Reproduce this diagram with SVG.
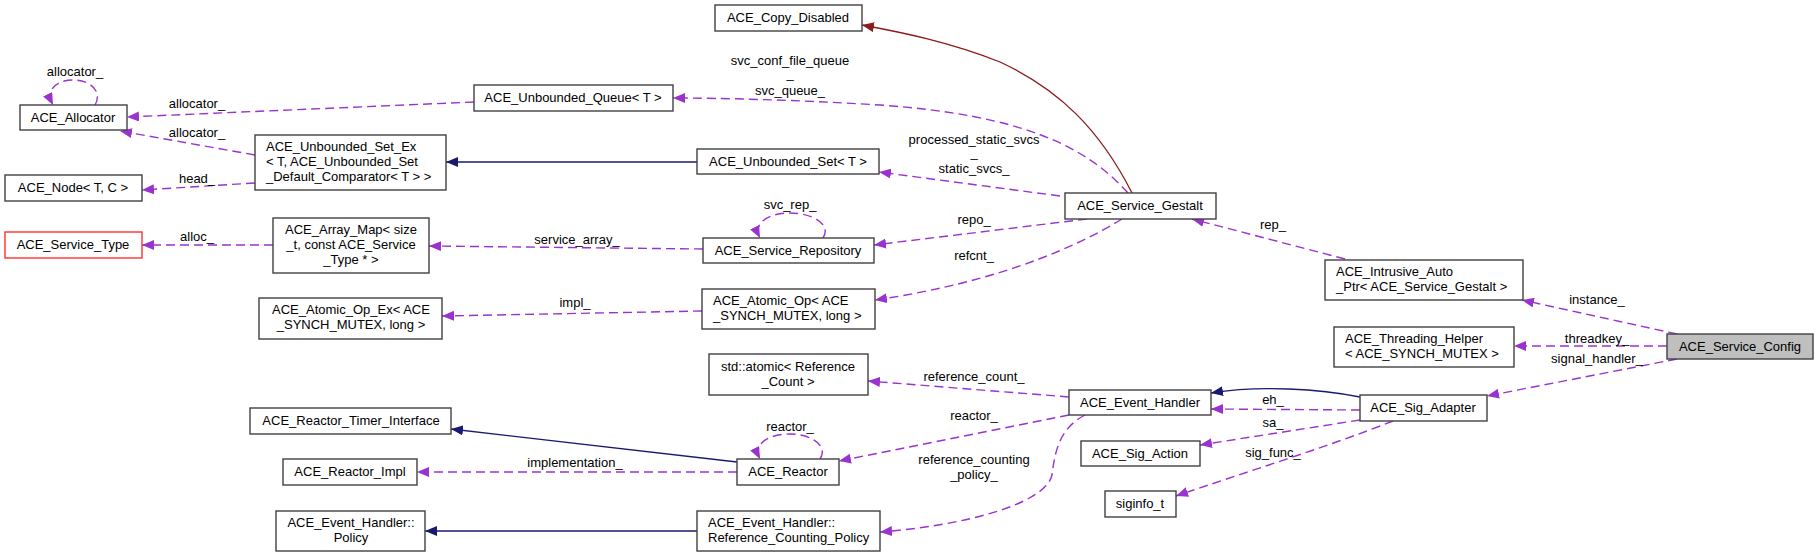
<svg xmlns="http://www.w3.org/2000/svg" width="1819" height="557" viewBox="0 0 1819 557">
<style>
text{font-family:"Liberation Sans",Arial,sans-serif;font-size:13px;fill:#000}
.c{text-anchor:middle}
.n rect{fill:#fff;stroke:#404040;stroke-width:1.4}
.d{fill:none;stroke:#9a32cd;stroke-width:1.4;stroke-dasharray:9,5}
.b{fill:none;stroke:#191970;stroke-width:1.3}
.r{fill:none;stroke:#8b1a1a;stroke-width:1.3}
</style>
<defs>
<marker id="ap" markerWidth="14" markerHeight="10" refX="12" refY="5" orient="auto" markerUnits="userSpaceOnUse"><path d="M0,0 L12,5 L0,10 z" fill="#9a32cd"/></marker>
<marker id="ab" markerWidth="14" markerHeight="10" refX="12" refY="5" orient="auto" markerUnits="userSpaceOnUse"><path d="M0,0 L12,5 L0,10 z" fill="#191970"/></marker>
<marker id="ar" markerWidth="14" markerHeight="10" refX="12" refY="5" orient="auto" markerUnits="userSpaceOnUse"><path d="M0,0 L12,5 L0,10 z" fill="#8b1a1a"/></marker>
</defs>

<g id="edges">
<path class="r" marker-end="url(#ar)" d="M1132,193 C1100,130 1060,90 1000,62 C950,42 900,32 862,25"/>
<path class="b" marker-end="url(#ab)" d="M697,162 L446,162"/>
<path class="b" marker-end="url(#ab)" d="M737,462 L451,429"/>
<path class="b" marker-end="url(#ab)" d="M697,531 L425,531"/>
<path class="b" marker-end="url(#ab)" d="M1360,397 C1320,389 1260,385 1211,393"/>

<path class="d" marker-end="url(#ap)" d="M1677,334 L1522,300"/>
<text class="c" x="1597" y="304">instance_</text>
<path class="d" marker-end="url(#ap)" d="M1667,346 L1514,346"/>
<text class="c" x="1597" y="343">threadkey_</text>
<path class="d" marker-end="url(#ap)" d="M1677,359 L1487,396"/>
<text class="c" x="1597" y="363">signal_handler_</text>
<path class="d" marker-end="url(#ap)" d="M1345,259 L1192,219"/>
<text class="c" x="1273" y="229">rep_</text>
<path class="d" marker-end="url(#ap)" d="M1360,410 L1211,409"/>
<text class="c" x="1273" y="404">eh_</text>
<path class="d" marker-end="url(#ap)" d="M1360,420 L1200,445"/>
<text class="c" x="1273" y="427">sa_</text>
<path class="d" marker-end="url(#ap)" d="M1393,421 C1330,446 1240,474 1176,496"/>
<text class="c" x="1273" y="457">sig_func_</text>

<path class="d" marker-end="url(#ap)" d="M1128,193 C1085,145 1020,115 880,105 C800,100 720,98 673,98"/>
<text class="c" x="790" y="65">svc_conf_file_queue</text>
<text class="c" x="790" y="78">_</text>
<text class="c" x="790" y="95">svc_queue_</text>
<path class="d" marker-end="url(#ap)" d="M1060,196 L879,172"/>
<text class="c" x="974" y="144">processed_static_svcs</text>
<text class="c" x="974" y="157">_</text>
<text class="c" x="974" y="173">static_svcs_</text>
<path class="d" marker-end="url(#ap)" d="M1087,219 L874,245"/>
<text class="c" x="974" y="224">repo_</text>
<path class="d" marker-end="url(#ap)" d="M1122,219 C1080,245 1000,282 875,300"/>
<text class="c" x="974" y="260">refcnt_</text>
<path class="d" marker-end="url(#ap)" d="M823,238 C832,224 812,213 790,213 C770,213 752,222 760,238"/>
<text class="c" x="790" y="209">svc_rep_</text>
<path class="d" marker-end="url(#ap)" d="M703,249 L429,246"/>
<text class="c" x="577" y="244">service_array_</text>
<path class="d" marker-end="url(#ap)" d="M702,311 L442,316"/>
<text class="c" x="575" y="307">impl_</text>
<path class="d" marker-end="url(#ap)" d="M1069,397 L868,381"/>
<text class="c" x="974" y="381">reference_count_</text>
<path class="d" marker-end="url(#ap)" d="M1069,415 L839,461"/>
<text class="c" x="974" y="420">reactor_</text>
<path class="d" marker-end="url(#ap)" d="M1085,415 C1060,428 1055,450 1052,475 C1045,505 960,526 880,532"/>
<text class="c" x="974" y="464">reference_counting</text>
<text class="c" x="974" y="479">_policy_</text>
<path class="d" marker-end="url(#ap)" d="M820,459 C829,445 810,434 790,434 C770,434 752,443 760,459"/>
<text class="c" x="790" y="431">reactor_</text>
<path class="d" marker-end="url(#ap)" d="M737,472 L417,472"/>
<text class="c" x="575" y="467">implementation_</text>
<path class="d" marker-end="url(#ap)" d="M474,102 L127,117"/>
<text class="c" x="197" y="108">allocator_</text>
<path class="d" marker-end="url(#ap)" d="M255,155 L120,131"/>
<text class="c" x="197" y="137">allocator_</text>
<path class="d" marker-end="url(#ap)" d="M255,183 L142,190"/>
<text class="c" x="197" y="183">head_</text>
<path class="d" marker-end="url(#ap)" d="M273,245 L142,245"/>
<text class="c" x="197" y="241">alloc_</text>
<path class="d" marker-end="url(#ap)" d="M95,105 C103,91 90,80 73,80 C57,80 45,89 53,105"/>
<text class="c" x="75" y="76">allocator_</text>
</g>

<g id="ACE_Service_Config" class="n"><rect x="1667" y="334" width="146" height="25" style="fill:#bfbfbf"/><text class="c" x="1740" y="351">ACE_Service_Config</text></g>
<g id="ACE_Intrusive_Auto_Ptr" class="n"><rect x="1325" y="260" width="198" height="40"/><text x="1336" y="276">ACE_Intrusive_Auto</text><text x="1336" y="291">_Ptr&lt; ACE_Service_Gestalt &gt;</text></g>
<g id="ACE_Threading_Helper" class="n"><rect x="1334" y="327" width="180" height="40"/><text x="1345" y="343">ACE_Threading_Helper</text><text x="1345" y="358">&lt; ACE_SYNCH_MUTEX &gt;</text></g>
<g id="ACE_Sig_Adapter" class="n"><rect x="1360" y="395" width="127" height="26"/><text class="c" x="1423" y="412">ACE_Sig_Adapter</text></g>
<g id="ACE_Service_Gestalt" class="n"><rect x="1065" y="193" width="151" height="26"/><text class="c" x="1140" y="210">ACE_Service_Gestalt</text></g>
<g id="ACE_Event_Handler" class="n"><rect x="1069" y="390" width="142" height="25"/><text class="c" x="1140" y="407">ACE_Event_Handler</text></g>
<g id="ACE_Sig_Action" class="n"><rect x="1081" y="441" width="119" height="25"/><text class="c" x="1140" y="458">ACE_Sig_Action</text></g>
<g id="siginfo_t" class="n"><rect x="1105" y="491" width="71" height="26"/><text class="c" x="1140" y="508">siginfo_t</text></g>
<g id="ACE_Copy_Disabled" class="n"><rect x="715" y="5" width="147" height="26"/><text class="c" x="788" y="22">ACE_Copy_Disabled</text></g>
<g id="ACE_Unbounded_Queue" class="n"><rect x="474" y="85" width="199" height="26"/><text class="c" x="573" y="102">ACE_Unbounded_Queue&lt; T &gt;</text></g>
<g id="ACE_Unbounded_Set" class="n"><rect x="697" y="149" width="182" height="25"/><text class="c" x="788" y="166">ACE_Unbounded_Set&lt; T &gt;</text></g>
<g id="ACE_Service_Repository" class="n"><rect x="703" y="238" width="171" height="25"/><text class="c" x="788" y="255">ACE_Service_Repository</text></g>
<g id="ACE_Atomic_Op" class="n"><rect x="702" y="289" width="173" height="40"/><text x="713" y="305">ACE_Atomic_Op&lt; ACE</text><text x="713" y="320">_SYNCH_MUTEX, long &gt;</text></g>
<g id="std_atomic" class="n"><rect x="709" y="354" width="159" height="41"/><text class="c" x="788" y="371">std::atomic&lt; Reference</text><text class="c" x="788" y="386">_Count &gt;</text></g>
<g id="ACE_Reactor" class="n"><rect x="737" y="459" width="102" height="26"/><text class="c" x="788" y="476">ACE_Reactor</text></g>
<g id="ACE_Event_Handler_Reference_Counting_Policy" class="n"><rect x="697" y="511" width="183" height="40"/><text x="708" y="527">ACE_Event_Handler::</text><text x="708" y="542">Reference_Counting_Policy</text></g>
<g id="ACE_Allocator" class="n"><rect x="20" y="105" width="107" height="25"/><text class="c" x="73" y="122">ACE_Allocator</text></g>
<g id="ACE_Unbounded_Set_Ex" class="n"><rect x="255" y="135" width="191" height="55"/><text x="266" y="151">ACE_Unbounded_Set_Ex</text><text x="266" y="166">&lt; T, ACE_Unbounded_Set</text><text x="266" y="181">_Default_Comparator&lt; T &gt; &gt;</text></g>
<g id="ACE_Node" class="n"><rect x="5" y="175" width="137" height="26"/><text class="c" x="73" y="192">ACE_Node&lt; T, C &gt;</text></g>
<g id="ACE_Service_Type" class="n"><rect x="5" y="232" width="137" height="26" style="stroke:#ff3030"/><text class="c" x="73" y="249">ACE_Service_Type</text></g>
<g id="ACE_Array_Map" class="n"><rect x="273" y="218" width="156" height="55"/><text class="c" x="351" y="234">ACE_Array_Map&lt; size</text><text class="c" x="351" y="249">_t, const ACE_Service</text><text class="c" x="351" y="264">_Type * &gt;</text></g>
<g id="ACE_Atomic_Op_Ex" class="n"><rect x="259" y="298" width="183" height="41"/><text class="c" x="351" y="314">ACE_Atomic_Op_Ex&lt; ACE</text><text class="c" x="351" y="329">_SYNCH_MUTEX, long &gt;</text></g>
<g id="ACE_Reactor_Timer_Interface" class="n"><rect x="250" y="408" width="201" height="26"/><text class="c" x="351" y="425">ACE_Reactor_Timer_Interface</text></g>
<g id="ACE_Reactor_Impl" class="n"><rect x="283" y="459" width="134" height="26"/><text class="c" x="350" y="476">ACE_Reactor_Impl</text></g>
<g id="ACE_Event_Handler_Policy" class="n"><rect x="276" y="511" width="149" height="40"/><text class="c" x="351" y="527">ACE_Event_Handler::</text><text class="c" x="351" y="542">Policy</text></g>
</svg>
